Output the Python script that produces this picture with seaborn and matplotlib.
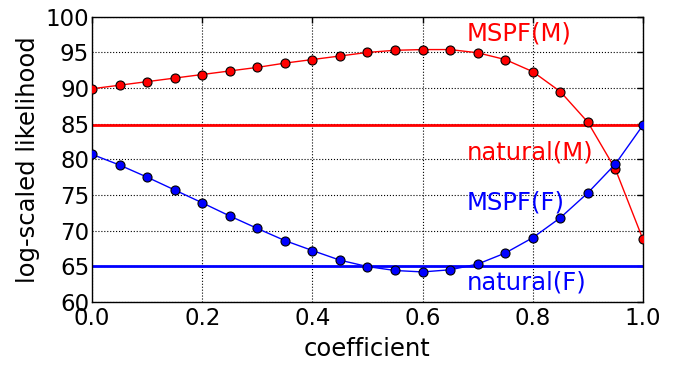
import numpy as np
import pandas as pd
import matplotlib
matplotlib.use("Agg")
import matplotlib.pyplot as plt
import seaborn as sns

# values
coefficient = [0.0, 0.05, 0.1, 0.15, 0.2, 0.25, 0.3, 0.35, 0.4, 0.45, 0.5,
               0.55, 0.6, 0.65, 0.7, 0.75, 0.8, 0.85, 0.9, 0.95, 1.0]
mspf_m = [89.9, 90.4, 90.9, 91.4, 91.9, 92.4, 92.9, 93.5, 94.0, 94.5, 95.0,
          95.3, 95.4, 95.4, 94.95, 94.0, 92.3, 89.5, 85.2, 78.6, 68.75]
mspf_f = [80.7, 79.2, 77.5, 75.7, 73.9, 72.05, 70.3, 68.6, 67.2, 65.85, 64.95,
          64.4, 64.2, 64.5, 65.3, 66.85, 69.0, 71.8, 75.3, 79.35, 84.8]
natural_m = 84.85
natural_f = 65.0

df = pd.DataFrame({"coefficient": coefficient, "MSPF(M)": mspf_m, "MSPF(F)": mspf_f})

sns.set_style("white")
plt.rcParams["font.family"] = ["DejaVu Sans"]
plt.rcParams["text.color"] = "black"
plt.rcParams["axes.labelcolor"] = "black"

fig = plt.figure(figsize=(6.88, 3.65), dpi=100)
ax = fig.add_axes([0.1337, 0.173, 0.9346 - 0.1337, 0.954 - 0.173])

sns.lineplot(data=df, x="coefficient", y="MSPF(M)", ax=ax, color="#ff0000",
             marker="o", markersize=6.5, markeredgecolor="black",
             markeredgewidth=0.8, linewidth=1, zorder=3)
sns.lineplot(data=df, x="coefficient", y="MSPF(F)", ax=ax, color="#0000ff",
             marker="o", markersize=6.5, markeredgecolor="black",
             markeredgewidth=0.8, linewidth=1, zorder=3)
ax.axhline(natural_m, color="#ff0000", linewidth=2, zorder=2)
ax.axhline(natural_f, color="#0000ff", linewidth=2, zorder=2)

fs = 17.5
ax.text(0.68, 97.6, "MSPF(M)", color="#ff0000", fontsize=fs, va="center")
ax.text(0.68, 81.0, "natural(M)", color="#ff0000", fontsize=fs, va="center")
ax.text(0.68, 73.9, "MSPF(F)", color="#0000ff", fontsize=fs, va="center")
ax.text(0.68, 62.7, "natural(F)", color="#0000ff", fontsize=fs, va="center")

ax.set_xlim(0, 1)
ax.set_ylim(60, 100)
ax.set_xticks(np.arange(0, 1.01, 0.2))
ax.set_yticks(np.arange(60, 101, 5))
ax.set_xticklabels([f"{v:.1f}" for v in np.arange(0, 1.01, 0.2)])
ax.set_xlabel("coefficient", fontsize=fs, labelpad=5)
ax.set_ylabel("log-scaled likelihood", fontsize=fs, labelpad=4)
ax.tick_params(direction="in", labelsize=16.5, top=True, right=True, length=4,
               width=1, colors="black", pad=2)
ax.tick_params(axis="x", pad=4)
ax.grid(True, linestyle=":", color="black", linewidth=0.8)
for s in ax.spines.values():
    s.set_color("black")
    s.set_linewidth(1)

fig.savefig("out.png", dpi=100)
